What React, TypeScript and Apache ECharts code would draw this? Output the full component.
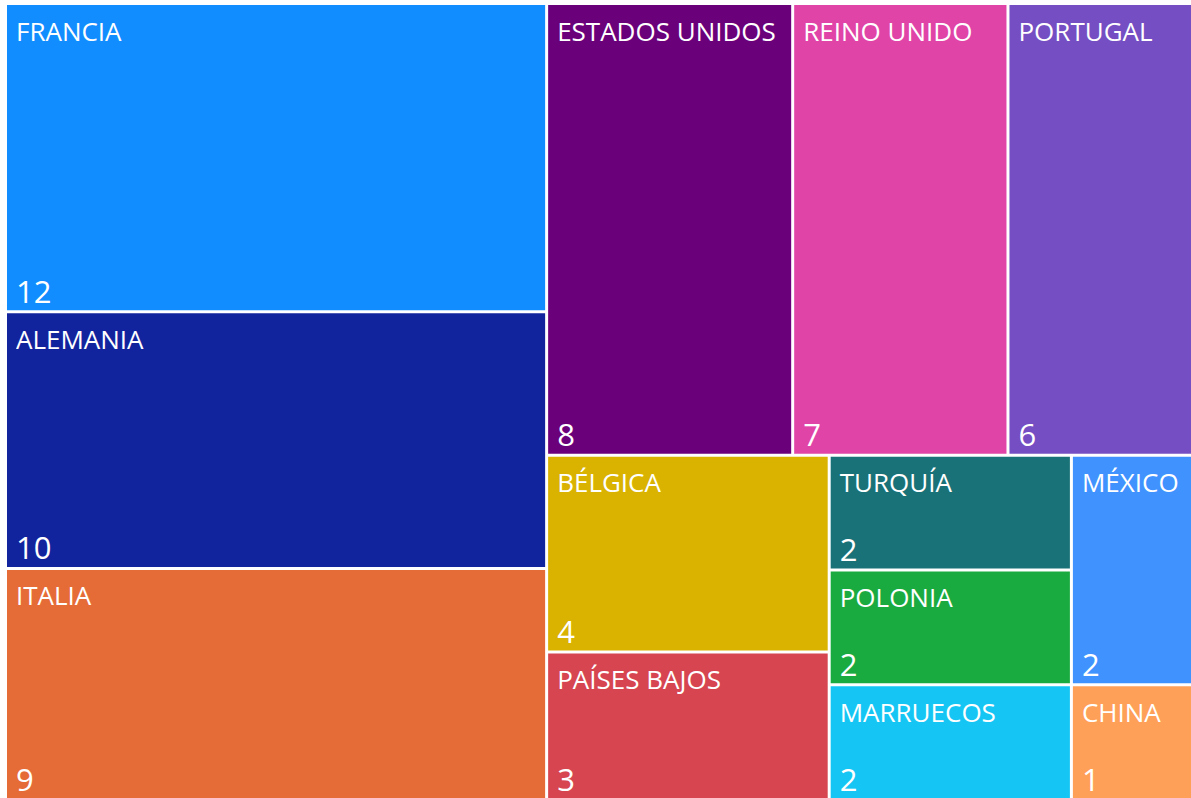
import React, { useEffect, useRef } from "react";
import * as echarts from "echarts";

const countries = [
  "FRANCIA",
  "ALEMANIA",
  "ITALIA",
  "ESTADOS UNIDOS",
  "REINO UNIDO",
  "PORTUGAL",
  "BÉLGICA",
  "PAÍSES BAJOS",
  "TURQUÍA",
  "POLONIA",
  "MARRUECOS",
  "MÉXICO",
  "CHINA",
];
const counts = [12, 10, 9, 8, 7, 6, 4, 3, 2, 2, 2, 2, 1];
const palette = [
  "#118DFF",
  "#12239E",
  "#E66C37",
  "#6B007B",
  "#E044A7",
  "#744EC2",
  "#D9B300",
  "#D64550",
  "#197278",
  "#1AAB40",
  "#15C6F4",
  "#4092FF",
  "#FFA058",
];

const FONT = "'Open Sans', 'Noto Sans', sans-serif";

export default function App() {
  const ref = useRef<HTMLDivElement>(null);

  useEffect(() => {
    if (!ref.current) return;
    const chart = echarts.init(ref.current, undefined, { renderer: "svg" });

    const box = { left: 7, top: 5, width: 1184, height: 793 };
    const common = {
      type: "treemap" as const,
      ...box,
      roam: false,
      nodeClick: false as const,
      breadcrumb: { show: false },
      sort: false,
      squareRatio: 0.5 * (1 + Math.sqrt(5)),
      levels: [{ itemStyle: { gapWidth: 3, borderWidth: 0, borderColor: "#fff" } }],
      upperLabel: { show: false },
    };

    const nameData = countries.map((n, i) => ({
      name: n,
      value: counts[i],
      itemStyle: { color: palette[i] },
    }));
    const valueData = countries.map((n, i) => ({
      name: n,
      value: counts[i],
      itemStyle: { color: "rgba(0,0,0,0)" },
    }));

    chart.setOption({
      animation: false,
      backgroundColor: "#ffffff",
      series: [
        {
          ...common,
          data: nameData,
          itemStyle: { gapWidth: 3, borderWidth: 0, borderColor: "#fff" },
          label: {
            show: true,
            position: "insideTopLeft",
            distance: 0,
            padding: [0, 8, 0, 9],
            offset: [0, 12],
            formatter: "{b}",
            color: "#ffffff",
            fontFamily: FONT,
            fontSize: 26,
            lineHeight: 27,
            overflow: "truncate",
            ellipsis: "...",
          },
        },
        {
          ...common,
          data: valueData,
          silent: true,
          itemStyle: { gapWidth: 3, borderWidth: 0, color: "rgba(0,0,0,0)" },
          label: {
            show: true,
            position: "insideBottomLeft",
            distance: 0,
            padding: [0, 8, 0, 9],
            offset: [0, -4],
            formatter: "{c}",
            color: "#ffffff",
            fontFamily: FONT,
            fontSize: 31,
            lineHeight: 31,
            overflow: "truncate",
          },
        },
      ],
    });

    return () => chart.dispose();
  }, []);

  return (
    <div
      ref={ref}
      style={{ position: "fixed", left: 0, top: 0, width: 1191, height: 798, overflow: "hidden" }}
    />
  );
}
